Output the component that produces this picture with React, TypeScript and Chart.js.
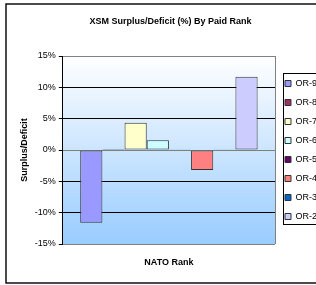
import React, { useEffect, useRef } from "react";
import { Chart, registerables } from "chart.js";

Chart.register(...registerables);

const categories = ["NATO Rank"];
const seriesLabels = ["OR-9", "OR-8", "OR-7", "OR-6", "OR-5", "OR-4", "OR-3", "OR-2"];
const seriesValues = [-11.6, 0.15, 4.35, 1.55, 0.12, -3.2, 0.12, 11.7];
const seriesColors = ["#9999FF", "#993366", "#FFFFCC", "#CCFFFF", "#660066", "#FF8080", "#0066CC", "#CCCCFF"];
const yTicks = [-15, -10, -5, 0, 5, 10, 15];

const FONT = "'Liberation Sans', Arial, sans-serif";

const framePlugin = {
  id: "framePlugin",
  beforeDraw(chart: any) {
    const { ctx, chartArea: ca } = chart;
    ctx.save();
    ctx.fillStyle = "#ffffff";
    ctx.fillRect(0, 0, 600, 400);
    ctx.strokeStyle = "#000000";
    ctx.lineWidth = 1.4;
    ctx.strokeRect(6, 4, 500, 279);
    const g = ctx.createLinearGradient(0, ca.top, 0, ca.bottom);
    g.addColorStop(0, "#ffffff");
    g.addColorStop(1, "#99ccff");
    ctx.fillStyle = g;
    ctx.fillRect(ca.left, ca.top, ca.right - ca.left, ca.bottom - ca.top);
    ctx.restore();
  },
  beforeDatasetsDraw(chart: any) {
    const { ctx, chartArea: ca } = chart;
    ctx.save();
    ctx.strokeStyle = "#808080";
    ctx.lineWidth = 1;
    ctx.beginPath();
    ctx.moveTo(ca.right + 0.5, ca.top);
    ctx.lineTo(ca.right + 0.5, ca.bottom);
    ctx.stroke();
    ctx.restore();
  },
  afterDraw(chart: any) {
    const lg = chart.legend;
    if (!lg) return;
    const { ctx } = chart;
    const pad = lg.options.labels.padding;
    const colH = lg.columnSizes && lg.columnSizes[0] ? lg.columnSizes[0].height : 0;
    const startY = (lg.top + pad + lg.bottom - colH) / 2;
    const n = chart.data.datasets.length;
    const itemH = 9;
    const top = Math.round(startY - 6) + 0.5;
    const bottom = Math.round(startY + (n - 1) * (itemH + pad) + itemH + 3) + 0.5;
    const left = Math.round(lg.left + pad - 2) + 0.5;
    ctx.save();
    ctx.strokeStyle = "#000000";
    ctx.lineWidth = 1;
    ctx.strokeRect(left, top, 300, bottom - top);
    ctx.restore();
  },
};

export default function App() {
  const ref = useRef<HTMLCanvasElement | null>(null);

  useEffect(() => {
    if (!ref.current) return;
    Chart.defaults.font.family = FONT;
    const chart = new Chart(ref.current, {
      type: "bar",
      data: {
        labels: categories,
        datasets: seriesLabels.map((label, i) => ({
          label,
          data: [seriesValues[i]],
          backgroundColor: seriesColors[i],
          borderColor: "#333333",
          borderWidth: 1,
          borderSkipped: false,
          categoryPercentage: 0.836,
          barPercentage: 1,
        })),
      },
      options: {
        responsive: false,
        animation: false,
        layout: { padding: { left: 14, top: 0, right: -11, bottom: 8 } },
        plugins: {
          title: {
            display: true,
            text: "XSM Surplus/Deficit (%) By Paid Rank",
            color: "#000",
            font: { size: 9, weight: "bold", family: FONT },
            padding: { top: 16.6, bottom: 28.6 },
          },
          legend: {
            display: true,
            position: "right",
            fullSize: false,
            labels: {
              boxWidth: 6,
              boxHeight: 6,
              padding: 10,
              color: "#000",
              font: { size: 9, family: FONT },
            },
          },
          tooltip: { enabled: false },
        },
        scales: {
          x: {
            grid: { display: false, drawTicks: false },
            border: { display: true, color: "#808080" },
            ticks: { display: false },
            title: {
              display: true,
              text: "NATO Rank",
              color: "#000",
              font: { size: 9, weight: "bold", family: FONT },
              padding: { top: 13.6, bottom: 8.6 },
            },
          },
          y: {
            min: -15,
            max: 15,
            afterBuildTicks: (scale: any) => {
              scale.ticks = yTicks.map((v) => ({ value: v }));
            },
            grid: {
              color: (c: any) =>
                c.tick && (c.tick.value === 0 || Math.abs(c.tick.value) === 15) ? "#808080" : "#000000",
              tickColor: "#000000",
              tickLength: 4,
              lineWidth: 1,
            },
            border: { display: true, color: "#000000" },
            ticks: {
              color: "#000",
              padding: 3,
              font: { size: 9, family: FONT },
              callback: (v: any) => `${v}%`,
            },
            title: {
              display: true,
              text: "Surplus/Deficit",
              color: "#000",
              font: { size: 9, weight: "bold", family: FONT },
              padding: { top: 5, bottom: 2 },
            },
          },
        },
      },
      plugins: [framePlugin],
    });
    return () => chart.destroy();
  }, []);

  return (
    <div style={{ position: "absolute", left: 0, top: 0, width: 316, height: 285, overflow: "hidden" }}>
      <canvas ref={ref} width={316} height={285} style={{ display: "block" }} />
    </div>
  );
}
